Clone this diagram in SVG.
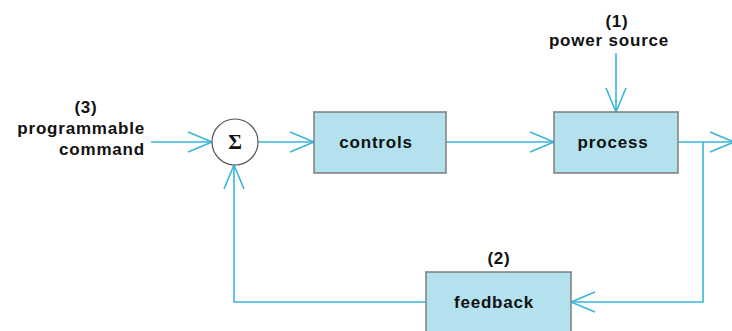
<svg xmlns="http://www.w3.org/2000/svg" width="732" height="331" viewBox="0 0 732 331">
<defs>
<style>
.box{fill:#b3e1ee;stroke:#7d7d7d;stroke-width:1.5}
.lbl{font-family:"Liberation Sans",Arial,sans-serif;font-weight:bold;font-size:17px;letter-spacing:0.8px;fill:#111}
.c{text-anchor:middle}
.wire{fill:none;stroke:#3ab6d8;stroke-width:1.6}
</style>
<marker id="ah" markerUnits="userSpaceOnUse" viewBox="-26 -12 28 24" markerWidth="28" markerHeight="24" refX="0" refY="0" orient="auto" overflow="visible">
<path d="M-24,-10 L0,0 L-24,10" fill="none" stroke="#3ab6d8" stroke-width="1.6"/>
</marker>
</defs>
<rect width="732" height="331" fill="#fff"/>
<g id="connectors">
<path class="wire" d="M151,142 H212" marker-end="url(#ah)"/>
<path class="wire" d="M258,142 H314" marker-end="url(#ah)"/>
<path class="wire" d="M446,142 H554" marker-end="url(#ah)"/>
<path class="wire" d="M678,142 H734" marker-end="url(#ah)"/>
<path class="wire" d="M616,53 V112" marker-end="url(#ah)"/>
<path class="wire" d="M703,142 V302 H571" marker-end="url(#ah)"/>
<path class="wire" d="M426,302 H234 V165" marker-end="url(#ah)"/>
</g>
<g id="sum">
<circle cx="235" cy="142" r="23" fill="#fff" stroke="#555" stroke-width="1.2"/>
<text x="235" y="149" class="c" font-family="'Liberation Serif','Times New Roman',serif" font-weight="bold" font-size="21" fill="#111">Σ</text>
</g>
<g id="controls">
<rect class="box" x="314" y="112" width="132" height="61"/>
<text class="lbl c" x="376" y="148">controls</text>
</g>
<g id="process">
<rect class="box" x="554" y="112" width="124" height="61"/>
<text class="lbl c" x="613" y="148">process</text>
</g>
<g id="feedback">
<rect class="box" x="426" y="272" width="145" height="70"/>
<text class="lbl c" x="494" y="308">feedback</text>
<text class="lbl c" x="499" y="264">(2)</text>
</g>
<g id="power-source">
<text class="lbl c" x="617" y="27">(1)</text>
<text class="lbl c" x="609" y="46">power source</text>
</g>
<g id="command">
<text class="lbl c" x="86" y="113">(3)</text>
<text class="lbl" x="145" y="134" text-anchor="end">programmable</text>
<text class="lbl" x="145" y="155" text-anchor="end">command</text>
</g>
</svg>
